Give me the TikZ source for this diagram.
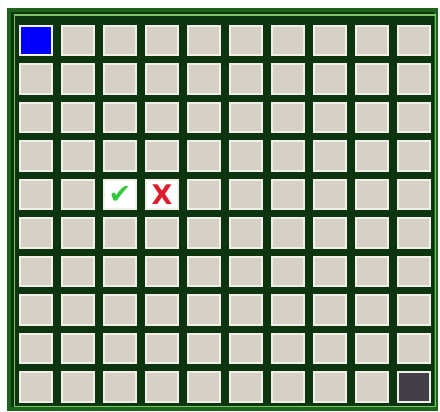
\documentclass[tikz,border=0pt]{standalone}
\usepackage{fontspec}
\newfontfamily\symfont{DejaVu Sans}
\definecolor{outergreen}{RGB}{28,100,28}
\definecolor{gridgreen}{RGB}{12,52,14}
\definecolor{lightline}{RGB}{124,196,106}
\definecolor{cellbeige}{RGB}{214,208,198}
\definecolor{celledge}{RGB}{240,240,232}
\definecolor{bluecell}{RGB}{0,0,250}
\definecolor{darkcell}{RGB}{66,64,70}
\definecolor{checkgreen}{RGB}{52,200,60}
\definecolor{crossred}{RGB}{222,30,45}
\tikzset{
  cellbox/.style={draw=celledge, line width=1.6pt, fill=cellbeige,
    minimum width=31.5pt, minimum height=29.5pt, inner sep=0pt, outer sep=0pt},
}
\begin{document}
\begin{tikzpicture}[x=1pt,y=1pt]
\useasboundingbox (0,0) rectangle (440,412);
% frame
\fill[outergreen] (7,1) rectangle (438,404);
\fill[gridgreen] (11,5) rectangle (434,400);
\draw[lightline, line width=1.8pt] (14.5,5.5) rectangle (435.5,397);
% cells
\foreach \i in {0,...,9}{
  \foreach \j in {0,...,9}{
    \node[cellbox] (c-\i-\j) at ({36+42*\i},{412-(40.5+38.5*\j)}) {};
  }
}
\node[cellbox, fill=bluecell] (blue) at (c-0-0) {};
\node[cellbox, fill=darkcell] (dark) at (c-9-9) {};
\node[cellbox, fill=white] (ok) at (c-2-4) {\symfont\fontsize{27}{27}\selectfont\textcolor{checkgreen}{✔}};
\node[cellbox, fill=white] (no) at (c-3-4) {\symfont\bfseries\fontsize{27}{27}\selectfont\textcolor{crossred}{X}};
\end{tikzpicture}
\end{document}
